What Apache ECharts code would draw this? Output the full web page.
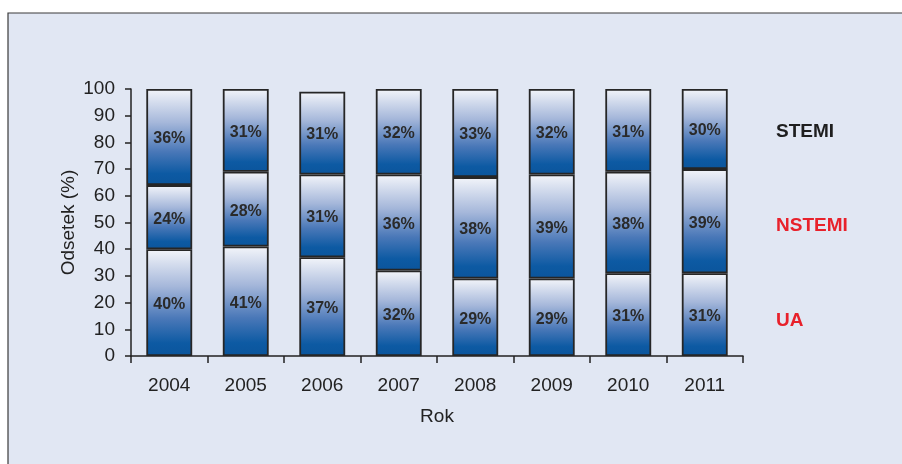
<!DOCTYPE html>
<html>
<head>
<meta charset="utf-8">
<script src="https://cdn.jsdelivr.net/npm/echarts@6/dist/echarts.min.js"></script>
<style>
  html, body { margin: 0; padding: 0; background: #ffffff; }
  #chart { width: 902px; height: 464px; }
</style>
</head>
<body>
<div id="chart"></div>
<script>
// Share of admissions by diagnosis, per year (%)
const years = ['2004', '2005', '2006', '2007', '2008', '2009', '2010', '2011'];
const ua = [40, 41, 37, 32, 29, 29, 31, 31];
const nstemi = [24, 28, 31, 36, 38, 39, 38, 39];
const stemi = [36, 31, 31, 32, 33, 32, 31, 30];
const yTicks = [0, 10, 20, 30, 40, 50, 60, 70, 80, 90, 100];

const FONT = '"Liberation Sans", Arial, Helvetica, sans-serif';

// each segment fades from near-white at its top to deep blue at its base
const barFill = new echarts.graphic.LinearGradient(0, 0, 0, 1, [
  { offset: 0, color: '#f3f5fa' },
  { offset: 0.35, color: '#a5b7da' },
  { offset: 0.65, color: '#4a78b8' },
  { offset: 0.88, color: '#0d5aa3' },
  { offset: 1, color: '#0b559c' }
]);

function stackSeries(name, values) {
  return {
    name: name,
    type: 'bar',
    stack: 'total',
    data: values,
    barCategoryGap: '40%',
    itemStyle: { color: barFill, borderColor: '#262626', borderWidth: 1.8 },
    label: {
      show: true,
      position: 'inside',
      offset: [0, 2],
      formatter: p => p.value + '%',
      fontFamily: FONT,
      fontWeight: 'bold',
      fontSize: 16,
      color: '#2a2a2a'
    },
    emphasis: { disabled: true }
  };
}

const chart = echarts.init(document.getElementById('chart'));
chart.setOption({
  animation: false,
  backgroundColor: '#ffffff',
  graphic: [
    {
      type: 'rect',
      z: -10,
      shape: { x: 8, y: 13, width: 900, height: 460 },
      style: { fill: '#e1e7f3', stroke: '#3a3a3a', lineWidth: 1.2 }
    },
    {
      type: 'text', left: 776, top: 122,
      style: { text: 'STEMI', font: 'bold 19px ' + FONT, fill: '#1f1f1f' }
    },
    {
      type: 'text', left: 776, top: 216,
      style: { text: 'NSTEMI', font: 'bold 19px ' + FONT, fill: '#e8212b' }
    },
    {
      type: 'text', left: 776, top: 311,
      style: { text: 'UA', font: 'bold 19px ' + FONT, fill: '#e8212b' }
    }
  ],
  grid: { left: 131, right: 159, top: 89, bottom: 108, containLabel: false },
  xAxis: {
    type: 'category',
    data: years,
    name: 'Rok',
    nameLocation: 'middle',
    nameGap: 51,
    nameTextStyle: { fontFamily: FONT, fontSize: 19, color: '#222' },
    axisLine: { lineStyle: { color: '#222', width: 1.5 } },
    axisTick: { show: true, length: 7, lineStyle: { color: '#222', width: 1.5 } },
    axisLabel: { fontFamily: FONT, fontSize: 19, color: '#222', margin: 20 }
  },
  yAxis: {
    type: 'value',
    min: yTicks[0],
    max: yTicks[yTicks.length - 1],
    interval: 10,
    name: 'Odsetek (%)',
    nameLocation: 'middle',
    nameGap: 53,
    nameMoveOverlap: false,
    nameRotate: 90,
    nameTextStyle: { fontFamily: FONT, fontSize: 19, color: '#222' },
    axisLine: { show: true, lineStyle: { color: '#222', width: 1.5 } },
    axisTick: { show: true, length: 6, lineStyle: { color: '#222', width: 1.5 } },
    axisLabel: { fontFamily: FONT, fontSize: 19, color: '#222', margin: 16 },
    splitLine: { show: false }
  },
  series: [
    stackSeries('UA', ua),
    stackSeries('NSTEMI', nstemi),
    stackSeries('STEMI', stemi)
  ]
});
</script>
</body>
</html>
